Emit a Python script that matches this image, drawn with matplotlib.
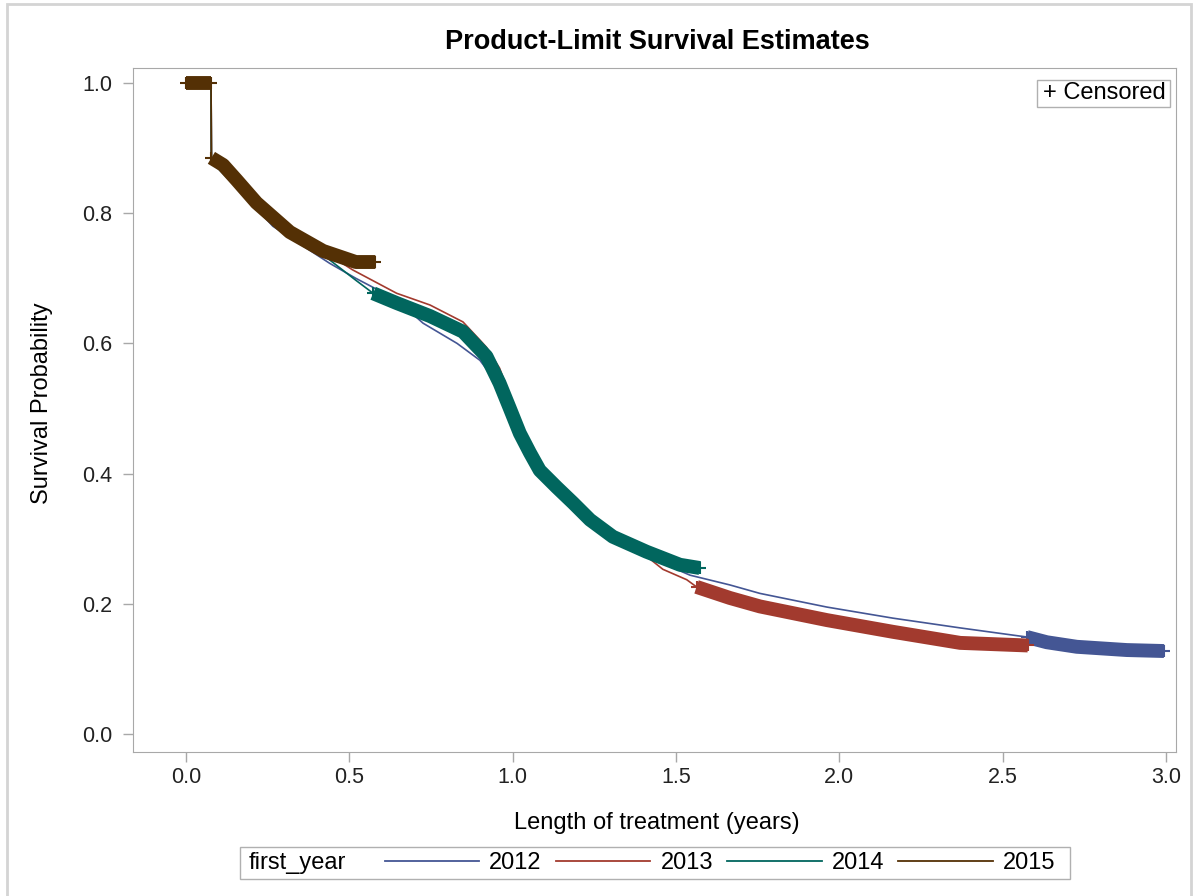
import numpy as np
import matplotlib
matplotlib.use('Agg')
import matplotlib.pyplot as plt
from matplotlib.lines import Line2D
from matplotlib.patches import Rectangle

W, H = 1198, 896

# groups and their SAS style colours
YEARS = ['2012', '2013', '2014', '2015']
COLORS = ['#445694', '#A23A2E', '#01665E', '#543005']

# survival curves (time in years, survival probability)
t_2012 = [0.0, 0.077, 0.078, 0.1, 0.165, 0.266, 0.44, 0.52, 0.645, 0.726, 0.83, 0.90, 0.93,
          0.96, 1.0, 1.053, 1.083, 1.135, 1.185, 1.237, 1.307, 1.41, 1.46, 1.543, 1.665,
          1.757, 1.962, 2.164, 2.37, 2.574, 2.635, 2.727, 2.88, 2.994]
s_2012 = [1.0, 1.0, 0.88, 0.868, 0.835, 0.78, 0.723, 0.70, 0.667, 0.631, 0.60, 0.574, 0.554,
          0.535, 0.505, 0.432, 0.405, 0.379, 0.355, 0.329, 0.303, 0.278, 0.262, 0.244, 0.229,
          0.216, 0.195, 0.178, 0.163, 0.149, 0.141, 0.134, 0.129, 0.1275]

t_2013 = [0.0, 0.077, 0.078, 0.1, 0.165, 0.266, 0.42, 0.51, 0.645, 0.747, 0.848, 0.9, 0.92,
          0.96, 1.0, 1.053, 1.083, 1.135, 1.185, 1.237, 1.307, 1.41, 1.46, 1.533, 1.563,
          1.665, 1.757, 1.962, 2.164, 2.37, 2.577]
s_2013 = [1.0, 1.0, 0.88, 0.87, 0.845, 0.79, 0.742, 0.713, 0.677, 0.659, 0.633, 0.605, 0.594,
          0.562, 0.508, 0.432, 0.405, 0.379, 0.355, 0.329, 0.303, 0.273, 0.253, 0.237, 0.226,
          0.209, 0.196, 0.175, 0.157, 0.14, 0.136]

t_2014 = [0.0, 0.077, 0.078, 0.1, 0.165, 0.266, 0.42, 0.52, 0.573, 0.645, 0.747, 0.848, 0.92,
          0.96, 0.99, 1.022, 1.053, 1.083, 1.135, 1.185, 1.237, 1.307, 1.41, 1.512, 1.573]
s_2014 = [1.0, 1.0, 0.88, 0.868, 0.835, 0.782, 0.736, 0.697, 0.677, 0.662, 0.642, 0.618, 0.58,
          0.539, 0.502, 0.462, 0.432, 0.405, 0.379, 0.355, 0.329, 0.303, 0.28, 0.26, 0.255]

t_2015 = [0.0, 0.077, 0.078, 0.114, 0.155, 0.216, 0.318, 0.42, 0.52, 0.58]
s_2015 = [1.0, 1.0, 0.885, 0.874, 0.851, 0.816, 0.771, 0.742, 0.725, 0.725]

# time ranges that are packed with censoring marks
cens_2012 = [(2.574, 2.994)]
cens_2013 = [(1.563, 2.577)]
cens_2014 = [(0.573, 1.573)]
cens_2015 = [(0.0, 0.076), (0.078, 0.58)]

X_TICKS = [0.0, 0.5, 1.0, 1.5, 2.0, 2.5, 3.0]
Y_TICKS = [0.0, 0.2, 0.4, 0.6, 0.8, 1.0]


def px(x, y):
    # pixel position -> figure fraction
    return x / W, 1 - y / H


def band(t, s, a, b):
    """ Part of a curve between two times, for the censored band. """
    t = np.asarray(t)
    s = np.asarray(s)
    keep = (t > a) & (t < b)
    bt = np.concatenate([[a], t[keep], [b]])
    bs = np.concatenate([[np.interp(a, t, s)], s[keep], [np.interp(b, t, s)]])
    return bt, bs


plt.rcParams['font.family'] = ['Liberation Sans', 'DejaVu Sans']
LABEL_SIZE = 17

fig = plt.figure(figsize=(W / 100, H / 100), dpi=100)
l, b = px(133, 752)
r, t = px(1176, 68)
ax = fig.add_axes([l, b, r - l, t - b])

curves = [(t_2012, s_2012, cens_2012), (t_2013, s_2013, cens_2013),
          (t_2014, s_2014, cens_2014), (t_2015, s_2015, cens_2015)]
for (tt, ss, cens), c in zip(curves, COLORS):
    ax.plot(tt, ss, color=c, lw=1.2)
    for a, e in cens:
        bt, bs = band(tt, ss, a, e)
        ax.plot(bt, bs, color=c, lw=10, solid_capstyle='butt', solid_joinstyle='round')
        ax.plot([a, e], [bs[0], bs[-1]], ls='none', marker='+', ms=9, mew=1.5, color=c)

ax.set_xlim(-0.162, 3.0306)
ax.set_ylim(-0.0276, 1.023)
ax.set_xticks(X_TICKS)
ax.set_yticks(Y_TICKS)
ax.set_xticklabels(['%.1f' % v for v in X_TICKS])
ax.set_yticklabels(['%.1f' % v for v in Y_TICKS])
for sp in ax.spines.values():
    sp.set_color('#a8a8a8')
ax.tick_params(direction='out', length=7, width=1, color='#a8a8a8',
               labelsize=15.5, labelcolor='#222222')
ax.tick_params(axis='y', pad=8)
ax.tick_params(axis='x', pad=4)

# titles and axis labels
fig.text(*px(657, 42), 'Product-Limit Survival Estimates', ha='center', va='center',
         fontsize=19.5, fontweight='bold')
fig.text(*px(657, 823), 'Length of treatment (years)', ha='center', va='center',
         fontsize=LABEL_SIZE)
fig.text(*px(42, 403), 'Survival Probability', ha='center', va='center',
         fontsize=LABEL_SIZE, rotation=90)

# censored key in the corner
x0, y0 = px(1037, 107)
x1, y1 = px(1170, 80)
fig.patches.append(Rectangle((x0, y0), x1 - x0, y1 - y0, transform=fig.transFigure,
                             fill=False, edgecolor='#b0b0b0', lw=1))
fig.text(*px(1104, 93), '+ Censored', ha='center', va='center', fontsize=LABEL_SIZE)

# bottom legend
x0, y0 = px(240, 879)
x1, y1 = px(1070, 847)
fig.patches.append(Rectangle((x0, y0), x1 - x0, y1 - y0, transform=fig.transFigure,
                             fill=False, edgecolor='#b0b0b0', lw=1))
fig.text(*px(249, 863), 'first_year', ha='left', va='center', fontsize=LABEL_SIZE)
handles = [Line2D([], [], color=c, lw=1.3) for c in COLORS]
fig.legend(handles, YEARS, ncol=4, frameon=False, loc='center left',
           bbox_to_anchor=px(385, 863), bbox_transform=fig.transFigure,
           handlelength=4.0, handletextpad=0.42, columnspacing=0.6,
           borderpad=0, borderaxespad=0, fontsize=LABEL_SIZE)

# light frame around the whole picture
x0, y0 = px(7, 905)
x1, y1 = px(1191, 4)
fig.patches.append(Rectangle((x0, y0), x1 - x0, y1 - y0, transform=fig.transFigure,
                             fill=False, edgecolor='#d4d4d4', lw=2))

fig.savefig('out.png', dpi=100)
